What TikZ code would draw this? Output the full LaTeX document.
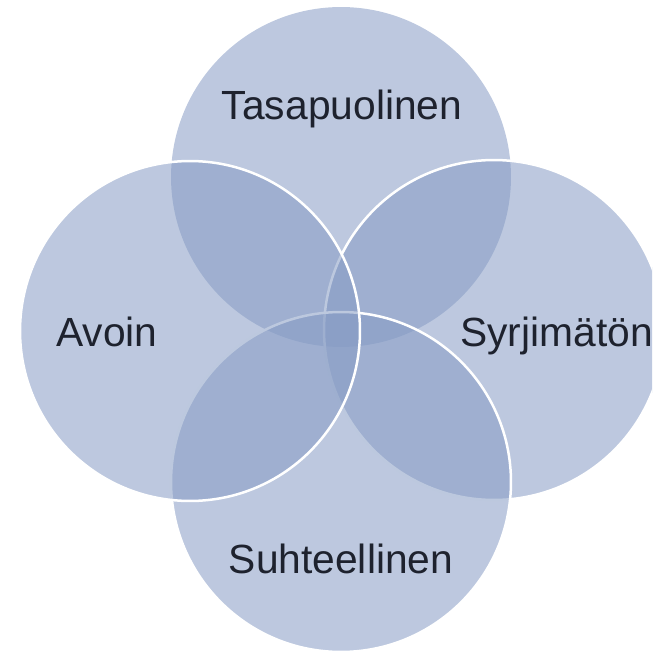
\documentclass[tikz,border=0pt]{standalone}
\usepackage{fontspec}
\setmainfont{Liberation Sans}
\usetikzlibrary{positioning}
\definecolor{petalblue}{RGB}{134,155,196}
\definecolor{labeltext}{RGB}{30,34,46}

\tikzset{
  petal/.style={circle, minimum size=6.8cm, inner sep=0pt,
    fill=petalblue, fill opacity=0.55, draw=white, draw opacity=1, line width=0.05cm},
  petallabel/.style={anchor=base, text=labeltext, inner sep=0pt,
    font=\fontsize{23.2pt}{27pt}\selectfont}
}

\begin{document}
\begin{tikzpicture}[x=0.02cm,y=-0.02cm]

\useasboundingbox (0,0) rectangle (652,658);
\clip (0,0) rectangle (652,658);

% circles, back to front
\node [petal, draw=none] (tasa) at (341,177) {};
\node [petal] (syrj) at (494,330) {};
\node [petal] (suht) at (341,482) {};
\node [petal] (avoin) at (190,331) {};
%
\node [petallabel] (tasatext) at (342,120) {Tasapuolinen};
\node [petallabel] (avointext) at (107,346) {Avoin};
\node [petallabel, anchor=base west] (syrjtext) at (460,346) {Syrjimätön};
\node [petallabel] (suhttext) at (341,573) {Suhteellinen};

\end{tikzpicture}
\end{document}
